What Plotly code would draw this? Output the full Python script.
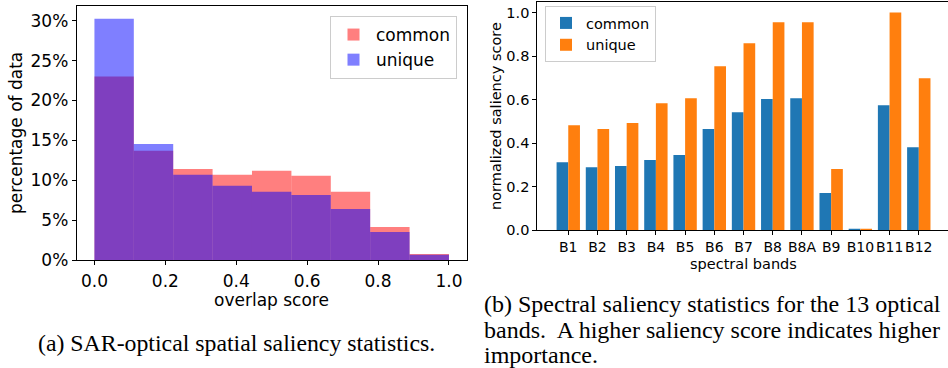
import plotly.graph_objects as go

# ---------------- data ----------------
# (a) histogram of overlap score
bin_left = [0.0, 0.1111, 0.2222, 0.3333, 0.4444, 0.5556, 0.6667, 0.7778, 0.8889]
bin_width = [0.1111, 0.1111, 0.1111, 0.1111, 0.1112, 0.1111, 0.1111, 0.1111, 0.1111]
common_pct = [23.0, 13.7, 11.4, 10.7, 11.2, 10.55, 8.55, 4.15, 0.75]
unique_pct = [30.25, 14.55, 10.7, 9.3, 8.55, 8.15, 6.4, 3.5, 0.65]
hist_xticks = [0.0, 0.2, 0.4, 0.6, 0.8, 1.0]
hist_yticks = [0, 5, 10, 15, 20, 25, 30]
hist_yticklabels = ["0%", "5%", "10%", "15%", "20%", "25%", "30%"]

# (b) spectral saliency
bands = ["B1", "B2", "B3", "B4", "B5", "B6", "B7", "B8", "B8A", "B9", "B10", "B11", "B12"]
band_common = [0.312, 0.289, 0.294, 0.322, 0.345, 0.464, 0.542, 0.602, 0.606, 0.170, 0.002, 0.574, 0.381]
band_unique = [0.482, 0.464, 0.492, 0.583, 0.606, 0.753, 0.859, 0.956, 0.956, 0.280, 0.003, 1.0, 0.698]
bar_yticks = [0.0, 0.2, 0.4, 0.6, 0.8, 1.0]

W, H = 948, 368
FONT = "DejaVu Sans"
SERIF = "Liberation Serif"


def px_x(p):
    return p / W


def px_y(p):
    return 1 - p / H


fig = go.Figure()

# ---- (a) ----
fig.add_trace(go.Bar(x=bin_left, y=common_pct, width=bin_width, offset=0,
                     marker=dict(color="rgba(255,0,0,0.5)", line=dict(width=0)),
                     name="common", xaxis="x", yaxis="y", legend="legend"))
fig.add_trace(go.Bar(x=bin_left, y=unique_pct, width=bin_width, offset=0,
                     marker=dict(color="rgba(0,0,255,0.5)", line=dict(width=0)),
                     name="unique", xaxis="x", yaxis="y", legend="legend"))

# ---- (b) ----
fig.add_trace(go.Bar(x=bands, y=band_common, width=0.4, offset=-0.4,
                     marker=dict(color="#1f77b4", line=dict(width=0)),
                     name="common", xaxis="x2", yaxis="y2", legend="legend2"))
fig.add_trace(go.Bar(x=bands, y=band_unique, width=0.4, offset=0.0,
                     marker=dict(color="#ff7f0e", line=dict(width=0)),
                     name="unique", xaxis="x2", yaxis="y2", legend="legend2"))

axis_common = dict(showline=True, mirror=True, linecolor="black", linewidth=1,
                   ticks="outside", ticklen=4, tickwidth=1, tickcolor="black",
                   showgrid=False, zeroline=False, automargin=False)

fig.update_layout(
    width=W, height=H,
    margin=dict(l=0, r=0, t=0, b=0),
    paper_bgcolor="white", plot_bgcolor="white",
    barmode="overlay",
    font=dict(family=FONT, color="black"),
    xaxis=dict(domain=[px_x(76.7), px_x(466.7)], range=[-0.05, 1.05],
               tickvals=hist_xticks, tickformat=".1f", tickangle=0, ticklabelstandoff=2,
               tickfont=dict(size=17), anchor="y", **axis_common),
    yaxis=dict(domain=[px_y(260), px_y(6)], range=[0, 31.85],
               tickmode="array", tickvals=hist_yticks, ticktext=hist_yticklabels,
               tickfont=dict(size=17), anchor="x", **axis_common),
    xaxis2=dict(domain=[px_x(537.3), 1.0], range=[-1.06, 13.0], tickangle=0,
                type="category", tickfont=dict(size=14), anchor="y2", **axis_common),
    yaxis2=dict(domain=[px_y(230), px_y(1.7)], range=[0, 1.05],
                tickvals=bar_yticks, tickformat=".1f",
                tickfont=dict(size=14.5), anchor="x2", **axis_common),
    legend=dict(x=px_x(457), y=px_y(16), xanchor="right", yanchor="top",
                bgcolor="rgba(255,255,255,0.8)", bordercolor="#cccccc", borderwidth=1,
                font=dict(size=17), itemwidth=35, tracegroupgap=4),
    legend2=dict(x=px_x(545), y=px_y(6), xanchor="left", yanchor="top",
                 bgcolor="rgba(255,255,255,0.8)", bordercolor="#cccccc", borderwidth=1,
                 font=dict(size=14.5), itemwidth=30),
    showlegend=True,
)

annotations = [
    dict(text="percentage of data", x=px_x(16), y=px_y(133), textangle=-90,
         font=dict(size=17, family=FONT)),
    dict(text="overlap score", x=px_x(271.5), y=px_y(299.5), font=dict(size=17, family=FONT)),
    dict(text="normalized saliency score", x=px_x(496), y=px_y(116), textangle=-90,
         font=dict(size=14.5, family=FONT)),
    dict(text="spectral bands", x=px_x(743), y=px_y(264), font=dict(size=14.5, family=FONT)),
    dict(text="(a) SAR-optical spatial saliency statistics.", x=px_x(236.7), y=px_y(342.5),
         font=dict(size=23.8, family=SERIF)),
    dict(text="(b) Spectral saliency statistics for the 13 optical", x=px_x(481.7), y=px_y(303.5),
         xanchor="left", font=dict(size=24, family=SERIF)),
    dict(text="bands.\u00a0 A higher saliency score indicates higher", x=px_x(481.7), y=px_y(330),
         xanchor="left", font=dict(size=24, family=SERIF)),
    dict(text="importance.", x=px_x(481.7), y=px_y(354.5),
         xanchor="left", font=dict(size=24, family=SERIF)),
]
for a in annotations:
    a.setdefault("xanchor", "center")
    a.setdefault("yanchor", "middle")
    fig.add_annotation(xref="paper", yref="paper", showarrow=False, **a)

fig.write_html("out.html")
